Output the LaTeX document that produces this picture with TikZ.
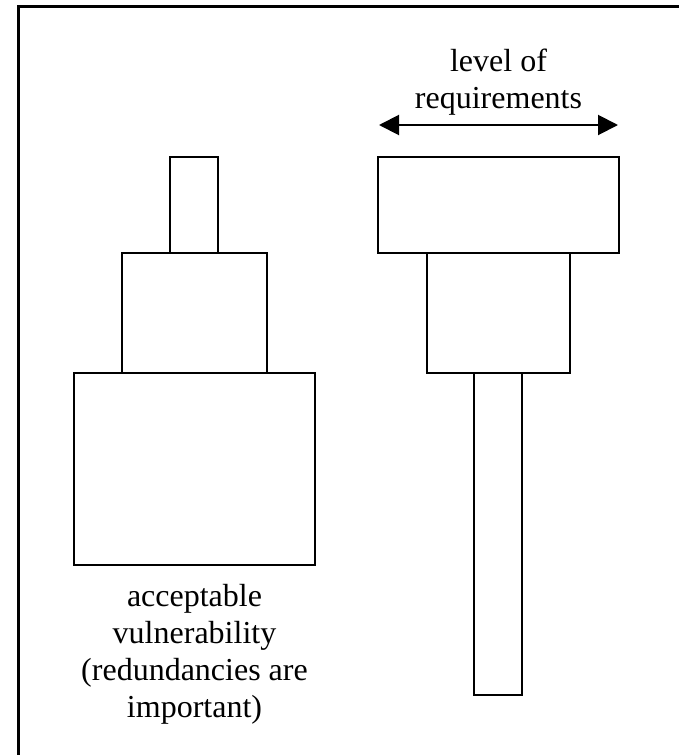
\documentclass[tikz,border=0pt]{standalone}
\usepackage{fontspec}
\setmainfont{Liberation Serif}
\usetikzlibrary{arrows.meta}
\begin{document}
\begin{tikzpicture}[x=1pt,y=-1pt,
  blockbox/.style={draw=black,line width=2pt,fill=white,inner sep=0pt,minimum width=#1},
  lbl/.style={font=\fontsize{32}{36.7}\selectfont,align=center,anchor=base,inner sep=0pt},
  frameline/.style={line width=3pt},
  reqarrow/.style={line width=2pt,{Triangle[length=20pt,width=20pt]}-{Triangle[length=20pt,width=20pt]}}]
\useasboundingbox (0,0) rectangle (679,755);
% frame (only left and top edges are visible)
\coordinate (ftr) at (681,6);
\coordinate (ftl) at (18,6);
\coordinate (fbl) at (18,757);
\draw[frameline] (ftr) -- (ftl) -- (fbl);
% left tower
\node[blockbox=48pt,minimum height=96pt] (L1) at (194,205) {};
\node[blockbox=145pt,minimum height=120pt] (L2) at (194.5,313) {};
\node[blockbox=241pt,minimum height=192pt] (L3) at (194.5,469) {};
% right tower
\node[blockbox=241pt,minimum height=96pt] (R1) at (498.5,205) {};
\node[blockbox=143pt,minimum height=120pt] (R2) at (498.5,313) {};
\node[blockbox=48pt,minimum height=322pt] (R3) at (498,534) {};
% arrow
\coordinate (al) at (379,125);
\coordinate (ar) at (618,125);
\draw[reqarrow] (al) -- (ar);
% labels (base anchor = baseline of the last line)
\node[lbl] (top) at (498.5,108) {level of\\requirements};
\node[lbl] (bot) at (194.5,717) {acceptable\\vulnerability\\(redundancies are\\important)};
\end{tikzpicture}
\end{document}
